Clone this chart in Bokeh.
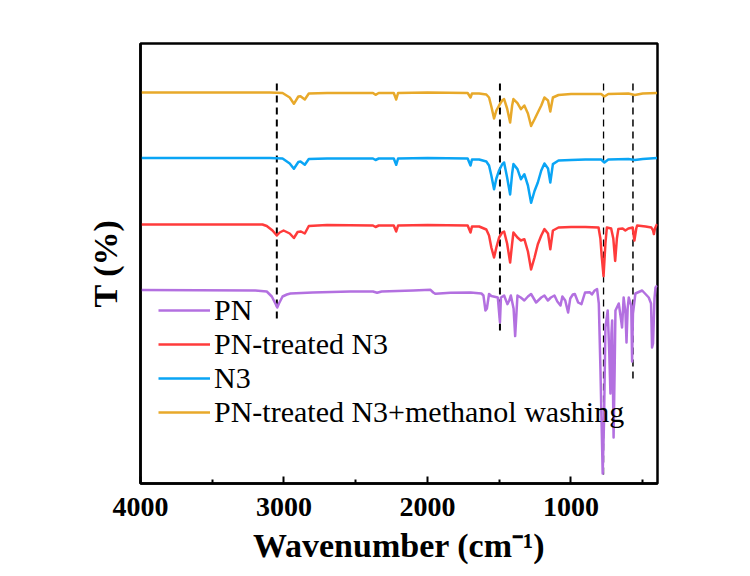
from bokeh.plotting import figure
from bokeh.models import Range1d, FixedTicker, Legend, LegendItem
from bokeh.embed import file_html
from bokeh.resources import INLINE

# ---- data (wavenumber in cm^-1, transmittance in arbitrary offset units) ----
pn_w = [4000, 3200, 3120, 3085, 3060, 3047, 3035, 3010, 2980, 2955, 2800, 2537, 2380, 2351, 2320,
        2100, 1979, 1960, 1944, 1840, 1700, 1624, 1610, 1596, 1586, 1571, 1555, 1510, 1501, 1495,
        1488, 1466, 1443, 1430, 1419, 1400, 1389, 1380, 1373, 1350, 1325, 1300, 1278, 1243, 1207,
        1185, 1161, 1140, 1115, 1095, 1073, 1060, 1040, 1020, 1005, 987, 973, 950, 927, 902, 868,
        854, 835, 818, 806, 795, 779, 770, 760, 744, 733, 725, 718, 713, 703, 696, 690, 667, 652,
        644, 633, 620, 613, 605, 597, 580, 574, 568, 551, 504, 458, 442, 435, 428, 418, 411, 400]
pn_t = [193.5, 193, 192, 187, 180, 176, 180, 187, 189, 190, 191, 192, 192, 190.7, 192,
        193, 193.7, 191, 189.7, 190.7, 191, 190, 188, 173, 175, 189.5, 187.5, 186, 171, 161,
        186, 188, 179.4, 183, 188, 175, 147.4, 170, 188, 186, 183, 187, 189.5, 181, 186,
        188, 183, 186, 188, 182, 178, 187, 183, 171, 185, 189, 189.5, 181, 179.4, 191, 191.2,
        189, 193, 194.4, 180, 116, 10, 60, 156, 173, 130, 90, 150, 163, 46, 110, 173, 180, 165,
        156, 186, 170, 141, 175, 186, 178, 122, 170, 190, 193, 186, 180, 136, 140, 185, 196, 198]

pnn3_w = [4000, 3150, 3120, 3080, 3050, 3030, 3003, 2960, 2931, 2905, 2882, 2855, 2827, 2700, 2380,
          2362, 2340, 2235, 2218, 2205, 2000, 1720, 1700, 1690, 1640, 1590, 1571, 1555, 1536, 1520,
          1501, 1480, 1466, 1445, 1424, 1410, 1401, 1373, 1349, 1325, 1300, 1278, 1254, 1231, 1207,
          1185, 1160, 1144, 1126, 1087, 1000, 900, 808, 795, 786, 773, 760, 750, 720, 705, 692, 680,
          670, 640, 621, 600, 570, 558, 545, 539, 480, 440, 428, 422, 415, 400]
pnn3_t = [259, 259, 257.5, 253, 248, 251, 253, 250, 245.5, 251.5, 252, 250, 257.5, 258.5, 258,
          256.5, 258, 258, 252, 258, 258.5, 258, 251, 257, 257, 254, 248, 236, 226, 236,
          246, 251, 252, 240, 221, 240, 251, 246, 243, 244.3, 232, 214, 226, 239.3, 248,
          254.4, 250, 234.2, 253, 256, 256.5, 256.5, 256, 245, 227.5, 207.3, 240, 256, 255, 245, 222.5, 245,
          254.4, 255, 253, 255, 256, 243, 255, 258, 257, 256, 253, 249.4, 255, 259.5]

n3_w = [4000, 3100, 3010, 2960, 2931, 2900, 2885, 2855, 2827, 2700, 2380, 2362, 2340, 2235, 2218,
        2205, 2000, 1720, 1700, 1690, 1640, 1590, 1571, 1555, 1536, 1520, 1501, 1480, 1466, 1445,
        1424, 1410, 1401, 1373, 1349, 1325, 1300, 1278, 1254, 1231, 1207, 1185, 1160, 1144, 1126,
        1087, 1000, 900, 790, 767, 740, 600, 555, 500, 400]
n3_t = [325.5, 325.5, 325, 320, 314.7, 321.5, 322, 318.7, 324.5, 325, 325, 323.5, 325, 325, 318.7,
        325, 325.5, 325, 318, 324, 324, 322, 318, 308, 294.2, 305, 313, 319, 321, 306,
        289, 310, 319.4, 314.4, 304.3, 309.3, 298, 280.7, 292.5, 301, 313, 320, 315, 301, 319.4,
        323, 323.5, 324, 324, 321, 324, 324.5, 323.5, 324.5, 325.5]

wash_w = [4000, 3100, 3010, 2960, 2931, 2900, 2885, 2855, 2827, 2700, 2380, 2362, 2340, 2235, 2218,
          2205, 2000, 1720, 1700, 1690, 1640, 1590, 1571, 1555, 1536, 1520, 1501, 1480, 1466, 1445,
          1424, 1410, 1401, 1373, 1349, 1325, 1300, 1278, 1254, 1231, 1207, 1185, 1160, 1144, 1126,
          1087, 1000, 900, 790, 767, 740, 600, 555, 500, 400]
wash_t = [391, 391, 390.5, 386, 379.7, 387, 387.3, 384, 390, 390.5, 390.5, 388.7, 390.5, 390.5, 384,
          390.5, 391, 390.5, 386, 390, 390, 389, 386, 377, 365, 373, 378, 383, 384.4, 375,
          361, 378, 384.4, 380.4, 374.3, 378, 370, 357.5, 364.2, 371, 378, 386, 383, 372, 386,
          388.5, 389.5, 389.5, 389.5, 387, 389.5, 390, 388.5, 390, 390.5]

series_names = ["PN", "PN-treated N3", "N3", "PN-treated N3+methanol washing"]
series_colors = ["#B370E0", "#FF3B3B", "#0AA5F5", "#E8A92A"]

# reference (dashed) lines
ref_w = [3050, 1495, 773, 568]
ref_top = [400, 400, 400, 400]
ref_bottom = [165, 148, 5, 105]
ref_width = [2, 2, 1.3, 1.5]

x_major = [4000, 3000, 2000, 1000]
x_minor = [3500, 2500, 1500, 500]

FONT = "Liberation Serif"

p = figure(width=750, height=576, output_backend="svg", toolbar_location=None,
           x_range=Range1d(4000, 397), y_range=Range1d(0, 440),
           min_border_left=140, min_border_right=93, min_border_top=43, min_border_bottom=93)
p.background_fill_color = "white"
p.border_fill_color = "white"
p.xgrid.visible = False
p.ygrid.visible = False
p.outline_line_color = "black"
p.outline_line_width = 2.5
p.outline_line_alpha = 1

for xw, yt, yb, lw in zip(ref_w, ref_top, ref_bottom, ref_width):
    p.segment(x0=[xw], y0=[yt], x1=[xw], y1=[yb], line_color="black",
              line_width=lw, line_dash="7 5")

renderers = []
for xs, ys, col in [(pn_w, pn_t, series_colors[0]), (pnn3_w, pnn3_t, series_colors[1]),
                    (n3_w, n3_t, series_colors[2]), (wash_w, wash_t, series_colors[3])]:
    r = p.line(xs, ys, line_color=col, line_width=2.5, line_join="round")
    renderers.append(r)

legend = Legend(items=[LegendItem(label=n, renderers=[r]) for n, r in zip(series_names, renderers)],
                location=(18, 54), orientation="vertical")
legend.label_text_font = FONT
legend.label_text_font_size = "30px"
legend.label_text_color = "black"
legend.glyph_width = 52
legend.glyph_height = 20
legend.label_height = 20
legend.label_standoff = 4
legend.spacing = 0
legend.padding = 0
legend.margin = 0
legend.border_line_color = None
legend.background_fill_alpha = 0
p.add_layout(legend, "center")

xa = p.xaxis[0]
xa.ticker = FixedTicker(ticks=x_major, minor_ticks=x_minor)
xa.axis_line_width = 2.5
xa.major_tick_in = 7
xa.major_tick_out = 0
xa.minor_tick_in = 4
xa.minor_tick_out = 0
xa.major_tick_line_width = 2
xa.minor_tick_line_width = 2
xa.major_label_text_font = FONT
xa.major_label_text_font_style = "bold"
xa.major_label_text_font_size = "28px"
xa.major_label_text_color = "black"
xa.major_label_standoff = 14
xa.axis_label = "Wavenumber (cm\u207b\u00b9)"
xa.axis_label_text_font = FONT
xa.axis_label_text_font_style = "bold"
xa.axis_label_text_font_size = "34px"
xa.axis_label_text_color = "black"
xa.axis_label_standoff = 8

ya = p.yaxis[0]
ya.ticker = FixedTicker(ticks=[])
ya.axis_line_width = 2.5
ya.major_tick_line_color = None
ya.minor_tick_line_color = None
ya.major_label_text_font_size = "0px"
ya.axis_label = "T (%)"
ya.axis_label_text_font = FONT
ya.axis_label_text_font_style = "bold"
ya.axis_label_text_font_size = "34px"
ya.axis_label_text_color = "black"
ya.axis_label_standoff = 17

open("out.html", "w").write(file_html(p, INLINE))
